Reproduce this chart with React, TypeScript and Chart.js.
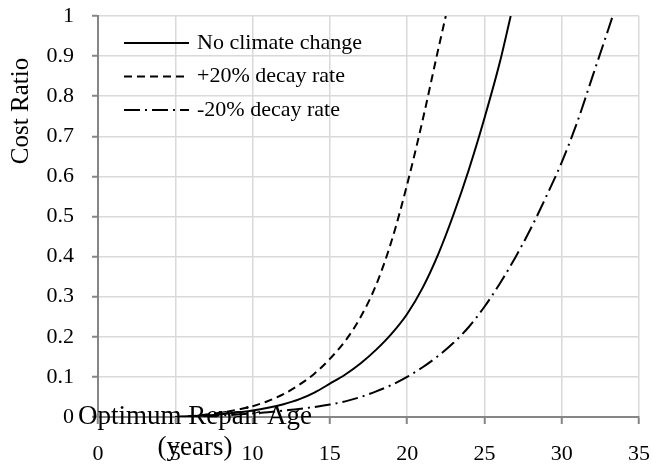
import React, { useEffect, useRef } from "react";
import { Chart, registerables } from "chart.js";

Chart.register(...registerables);

// ---- Data ----
const seriesLabels = ["No climate change", "+20% decay rate", "-20% decay rate"];

const agesNoChange = [5, 6, 7, 8, 9, 10, 11, 12, 13, 14, 15, 16, 17, 18, 19, 20, 21, 22, 23, 24, 25, 26, 26.7];
const costNoChange = [0, 0.002, 0.004, 0.007, 0.011, 0.016, 0.023, 0.032, 0.044, 0.061, 0.083, 0.106, 0.134, 0.168, 0.208, 0.257, 0.322, 0.405, 0.505, 0.618, 0.745, 0.885, 1.0];

const agesPlus20 = [5, 6, 7, 8, 9, 10, 11, 12, 13, 14, 15, 16, 17, 18, 19, 20, 21, 22, 22.5];
const costPlus20 = [0, 0.002, 0.006, 0.011, 0.018, 0.027, 0.04, 0.057, 0.08, 0.108, 0.145, 0.19, 0.25, 0.33, 0.44, 0.58, 0.74, 0.915, 1.0];

const agesMinus20 = [5, 6, 7, 8, 9, 10, 11, 12, 13, 14, 15, 16, 17, 18, 19, 20, 21, 22, 23, 24, 25, 26, 27, 28, 29, 30, 31, 32, 33, 33.3];
const costMinus20 = [0, 0.001, 0.002, 0.004, 0.006, 0.009, 0.012, 0.016, 0.02, 0.025, 0.031, 0.039, 0.05, 0.064, 0.08, 0.1, 0.124, 0.152, 0.185, 0.225, 0.275, 0.333, 0.398, 0.47, 0.55, 0.635, 0.735, 0.85, 0.965, 1.0];

const yAxisTitle = "Cost Ratio";
const xAxisTitleLines = ["Optimum Repair Age", "(years)"];

const X_MIN = 0;
const X_MAX = 35;
const X_STEP = 5;
const Y_MIN = 0;
const Y_MAX = 1;
const Y_STEP = 0.1;

const SERIF = "'Liberation Serif', 'Times New Roman', serif";

function toPoints(xs: number[], ys: number[]) {
  return xs.map((x, i) => ({ x, y: ys[i] }));
}

const overlayPlugin = {
  id: "overlay",
  afterDraw(chart: any) {
    const ctx = chart.ctx as CanvasRenderingContext2D;
    ctx.save();
    // Legend inside plot area
    const lx0 = 124;
    const lx1 = 189;
    const tx = 197;
    const rowY0 = 43;
    const rowGap = 33.5;
    chart.data.datasets.forEach((ds: any, i: number) => {
      const y = rowY0 + i * rowGap;
      ctx.beginPath();
      ctx.setLineDash(ds.borderDash || []);
      ctx.lineWidth = 2;
      ctx.strokeStyle = ds.borderColor;
      ctx.moveTo(lx0, y);
      ctx.lineTo(lx1, y);
      ctx.stroke();
      ctx.setLineDash([]);
      ctx.fillStyle = "#000";
      ctx.font = `22px ${SERIF}`;
      ctx.textAlign = "left";
      ctx.textBaseline = "middle";
      ctx.fillText(ds.label, tx, y);
    });

    // Y axis title (rotated)
    ctx.save();
    ctx.translate(21, 111);
    ctx.rotate(-Math.PI / 2);
    ctx.font = `25px ${SERIF}`;
    ctx.fillStyle = "#000";
    ctx.textAlign = "center";
    ctx.textBaseline = "middle";
    ctx.fillText(yAxisTitle, 0, 0);
    ctx.restore();

    // X axis title (two lines, overlapping the axis as in the reference)
    ctx.font = `27px ${SERIF}`;
    ctx.fillStyle = "#000";
    ctx.textAlign = "center";
    ctx.textBaseline = "middle";
    ctx.fillText(xAxisTitleLines[0], 195, 417);
    ctx.fillText(xAxisTitleLines[1], 195, 448);
    ctx.restore();
  },
};

export default function App() {
  const canvasRef = useRef<HTMLCanvasElement | null>(null);

  useEffect(() => {
    const canvas = canvasRef.current;
    if (!canvas) return;
    const gridColor = (c: any) => (c.tick && c.tick.value === 0 ? "rgba(0,0,0,0)" : "#d9d9d9");
    const mkDataset = (label: string, xs: number[], ys: number[], dash: number[]) => ({
      label,
      data: toPoints(xs, ys),
      borderColor: "#000",
      borderWidth: 2,
      borderDash: dash,
      pointRadius: 0,
      cubicInterpolationMode: "monotone",
      fill: false,
      clip: 0,
    });
    const chart = new Chart(canvas, {
      type: "line",
      data: {
        datasets: [
          mkDataset(seriesLabels[0], agesNoChange, costNoChange, []),
          mkDataset(seriesLabels[1], agesPlus20, costPlus20, [8, 5]),
          mkDataset(seriesLabels[2], agesMinus20, costMinus20, [16, 5, 2, 5]),
        ] as any,
      },
      options: {
        responsive: false,
        animation: false,
        devicePixelRatio: 1,
        layout: { padding: { top: 16, right: 14, left: 0, bottom: 0 } },
        plugins: {
          legend: { display: false },
          tooltip: { enabled: false },
          title: { display: false },
        },
        scales: {
          x: {
            type: "linear",
            min: X_MIN,
            max: X_MAX,
            ticks: {
              stepSize: X_STEP,
              color: "#000",
              font: { family: SERIF, size: 22 },
              padding: 17,
              maxRotation: 0,
            },
            grid: {
              color: gridColor,
              lineWidth: 1.5,
              tickColor: "#868686",
              tickLength: 7,
              tickWidth: 2,
            },
            border: { color: "#868686", width: 2 },
            afterFit: (s: any) => {
              s.height = 51;
              s.paddingLeft = 0;
              s.paddingRight = 0;
            },
          },
          y: {
            type: "linear",
            min: Y_MIN,
            max: Y_MAX,
            ticks: {
              stepSize: Y_STEP,
              color: "#000",
              font: { family: SERIF, size: 22 },
              padding: 18,
              callback: (v: any) => String(Number(Number(v).toFixed(1))),
            },
            grid: {
              color: gridColor,
              lineWidth: 1.5,
              tickColor: "#868686",
              tickLength: 6,
              tickWidth: 2,
            },
            border: { color: "#868686", width: 2 },
            afterFit: (s: any) => {
              s.width = 98;
              s.paddingTop = 0;
              s.paddingBottom = 0;
            },
          },
        },
      },
      plugins: [overlayPlugin],
    });
    return () => chart.destroy();
  }, []);

  return (
    <div style={{ position: "absolute", left: 0, top: 0, width: 653, height: 468, background: "#fff" }}>
      <canvas ref={canvasRef} width={653} height={468} style={{ width: 653, height: 468, display: "block" }} />
    </div>
  );
}
